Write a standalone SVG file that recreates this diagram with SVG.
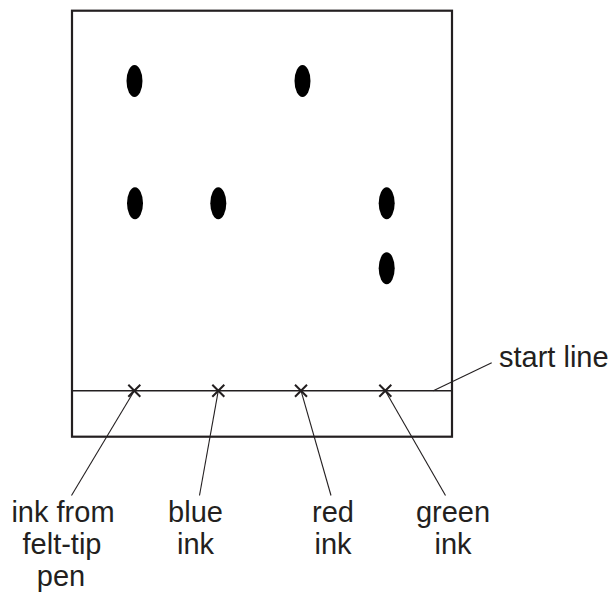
<svg xmlns="http://www.w3.org/2000/svg" width="613" height="593" viewBox="0 0 613 593">
<style>
.box{fill:none;stroke:#231f20;stroke-width:2.2}
.thin{fill:none;stroke:#231f20;stroke-width:1.4}
.lead{fill:none;stroke:#231f20;stroke-width:1.1}
.spot{fill:#000}
.x{stroke:#231f20;stroke-width:2;fill:none}
text{font-family:"Liberation Sans",Arial,sans-serif;font-size:29px;fill:#231f20}
.c{text-anchor:middle}
</style>
<rect width="613" height="593" fill="#fff"/>
<g id="paper">
<rect class="box" x="72" y="10.7" width="380" height="426"/>
<line class="thin" x1="72" y1="390.7" x2="452" y2="390.7"/>
</g>
<g id="spots">
<ellipse class="spot" cx="134.5" cy="81" rx="8" ry="16"/>
<ellipse class="spot" cx="302.5" cy="81" rx="8" ry="16"/>
<ellipse class="spot" cx="135" cy="203.3" rx="8" ry="16"/>
<ellipse class="spot" cx="218.3" cy="203.3" rx="8" ry="16"/>
<ellipse class="spot" cx="386.7" cy="203.3" rx="8" ry="16"/>
<ellipse class="spot" cx="386.7" cy="268.3" rx="8" ry="16"/>
</g>
<g id="crosses">
<path class="x" d="M128.3 384.7l12 12M140.3 384.7l-12 12"/>
<path class="x" d="M212.3 384.7l12 12M224.3 384.7l-12 12"/>
<path class="x" d="M295 384.7l12 12M307 384.7l-12 12"/>
<path class="x" d="M379.3 384.7l12 12M391.3 384.7l-12 12"/>
</g>
<g id="connectors">
<line class="lead" x1="134.3" y1="390.7" x2="71.5" y2="495.5"/>
<line class="lead" x1="218.3" y1="390.7" x2="199.5" y2="495.5"/>
<line class="lead" x1="301" y1="390.7" x2="331" y2="495.5"/>
<line class="lead" x1="385.3" y1="390.7" x2="445.5" y2="495.5"/>
<line class="lead" x1="433.3" y1="390.7" x2="491.7" y2="362.7"/>
</g>
<g id="label-start">
<text x="499" y="367">start line</text>
</g>
<g id="label-pen">
<text class="c" x="63" y="521.5">ink from</text>
<text class="c" x="62" y="553.5">felt-tip</text>
<text class="c" x="61" y="585.5">pen</text>
</g>
<g id="label-blue">
<text class="c" x="195.5" y="521.5">blue</text>
<text class="c" x="195.5" y="553.5">ink</text>
</g>
<g id="label-red">
<text class="c" x="333" y="521.5">red</text>
<text class="c" x="333" y="553.5">ink</text>
</g>
<g id="label-green">
<text class="c" x="453" y="521.5">green</text>
<text class="c" x="453" y="553.5">ink</text>
</g>
</svg>
